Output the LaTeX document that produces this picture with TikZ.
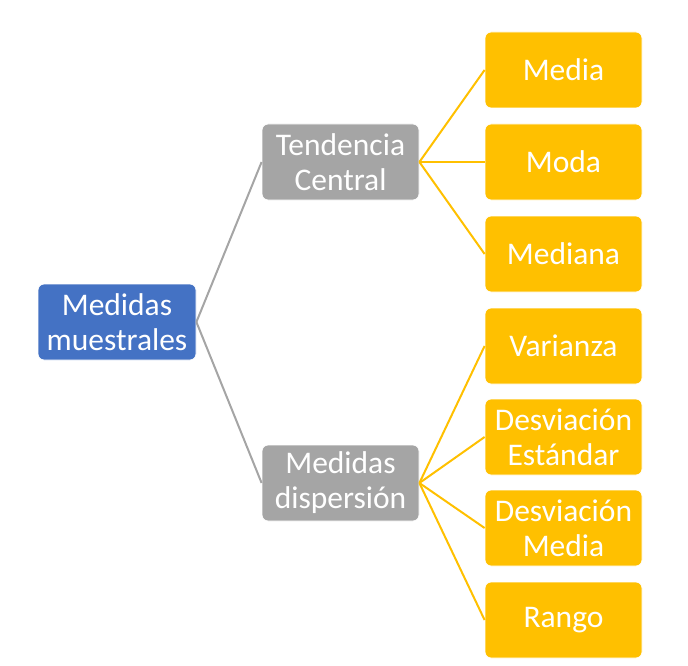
\documentclass[tikz,border=0pt]{standalone}
\usepackage{fontspec}
\setmainfont{Carlito}
\usepackage{tikz}
\usetikzlibrary{positioning}
\definecolor{rootblue}{RGB}{68,114,196}
\definecolor{midgray}{RGB}{165,165,165}
\definecolor{leafgold}{RGB}{255,192,0}
\tikzset{
  box/.style={rectangle, rounded corners=6pt, draw=white, line width=0.8pt,
    minimum width=157pt, minimum height=76pt, inner sep=0pt, align=center,
    text=white, font=\fontsize{31.5}{35}\selectfont},
  rootbox/.style={box, fill=rootblue, minimum width=158pt},
  midbox/.style={box, fill=midgray},
  leafbox/.style={box, fill=leafgold},
  graylink/.style={draw=midgray, line width=2pt},
  goldlink/.style={draw=leafgold, line width=2pt}
}

\begin{document}
\begin{tikzpicture}[x=1pt, y=-1pt]
                \useasboundingbox (0,0) rectangle (688,666);
                % Root
                \node[rootbox] (root) at (117,322) {Medidas\\muestrales};
                
                % Second level
                \node[midbox] (tend) at (340.5,162) {Tendencia\\Central};
                \node[midbox] (disp) at (340.5,483) {Medidas\\dispersión};
                
                % Leaves
                \node[leafbox] (media)   at (563.5,70)  {Media};
                \node[leafbox] (moda)    at (563.5,162) {Moda};
                \node[leafbox] (mediana) at (563.5,254) {Mediana};
                \node[leafbox] (varianza) at (563.5,346) {Varianza};
                \node[leafbox] (desvest) at (563.5,437) {Desviación\\Estándar};
                \node[leafbox] (desvmed) at (563.5,528) {Desviación\\Media};
                \node[leafbox] (rango)   at (563.5,620) {Rango};
                
                % Links
                \draw[graylink] (root.east) -- (tend.west);
                \draw[graylink] (root.east) -- (disp.west);
                \foreach \leaf in {media, moda, mediana}
                    \draw[goldlink] (tend.east) -- (\leaf.west);
                \foreach \leaf in {varianza, desvest, desvmed, rango}
                    \draw[goldlink] (disp.east) -- (\leaf.west);
            \end{tikzpicture}
\end{document}
